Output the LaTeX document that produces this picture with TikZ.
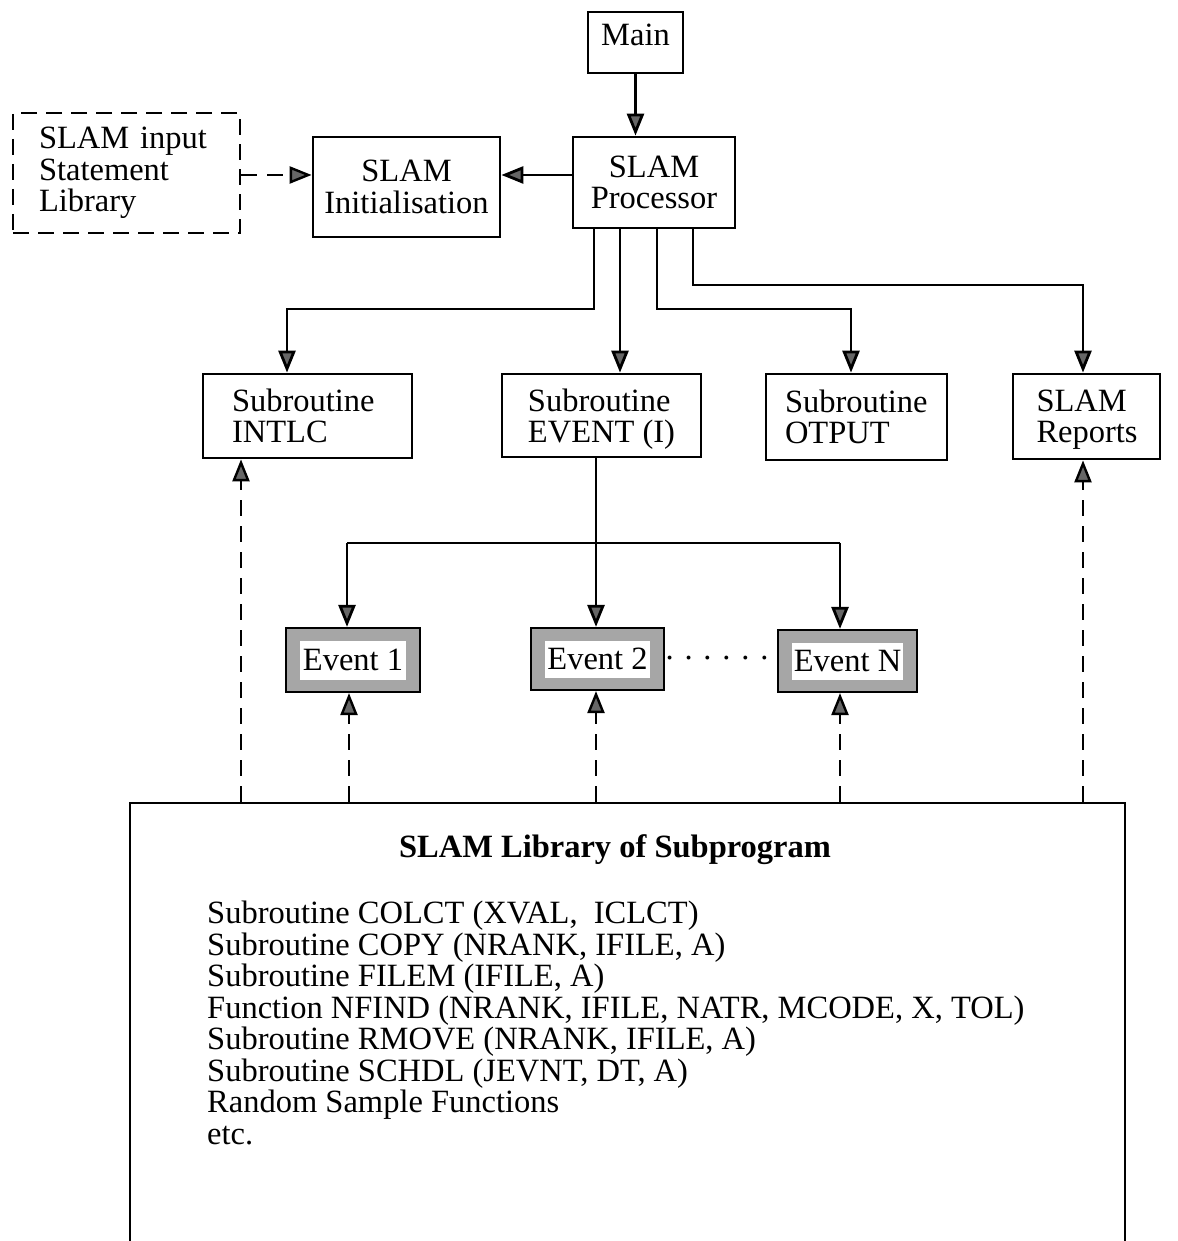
\documentclass[tikz,border=0pt]{standalone}
\usepackage{fontspec}
\setmainfont{Liberation Serif}
\usetikzlibrary{arrows.meta,calc}

\tikzset{
  every node/.style={font=\fontsize{32.5}{31.5}\selectfont},
  box/.style={draw, line width=2.8pt, inner sep=0pt},
  dbox/.style={draw, line width=2.6pt, inner sep=0pt, dash pattern=on 16pt off 9pt},
  evbox/.style={draw, line width=2.2pt, fill=black!35, inner sep=0pt,
    path picture={\fill[white]
      ($(path picture bounding box.south west)+(14pt,12pt)$) rectangle
      ($(path picture bounding box.north east)+(-14pt,-13pt)$);}},
  wire/.style={line width=2.8pt},
  arr/.style={wire, -{Triangle[length=22pt,width=17pt,fill=black!60]}},
  darr/.style={line width=2.4pt, dash pattern=on 16pt off 10pt,
    -{Triangle[length=22pt,width=17pt,fill=black!60]}},
}

\begin{document}
\begin{tikzpicture}[x=1pt,y=1pt]
\useasboundingbox[fill=white] (0,0) rectangle (1177,1241);

% top level
\node[box, text height=34, text depth=27] (main) at (635.5,1198.5) {\makebox[95pt]{Main}};
\node[box, minimum width=162, minimum height=91, align=center] (proc) at (654,1058.5) {SLAM\\Processor};
\node[box, minimum width=187, minimum height=100, align=center] (init) at (406.5,1054) {SLAM\\Initialisation};
\node[dbox, minimum width=227, minimum height=120, text width=175, align=left] (input) at (126.5,1068) {SLAM input\\Statement\\Library};

% subroutines
\node[box, minimum width=209, minimum height=84, text width=151, align=left] (intlc) at (307.5,825) {Subroutine\\INTLC};
\node[box, minimum width=199, minimum height=83, align=left] (event) at (601.5,825.5) {Subroutine\\\smash{EVENT (I)}};
\node[box, minimum width=181, minimum height=86, text width=143, align=left] (otput) at (856.5,824) {Subroutine\\OTPUT};
\node[box, minimum width=147, minimum height=85, text width=100, align=left] (reports) at (1086.5,824.5) {SLAM\\\smash{Reports}};

% events
\node[evbox, minimum width=134, minimum height=64] (ev1) at (353,581) {Event 1};
\node[evbox, minimum width=133, minimum height=62] (ev2) at (597.5,582) {Event 2};
\node[evbox, minimum width=139, minimum height=62] (evn) at (847.5,580) {Event N};
\node (dots) at (717,583) {. . . . . .};

% subprogram library
\node[box, minimum width=995, minimum height=470] (lib) at (627.5,203) {};
\node[font=\fontsize{32.5}{31.5}\selectfont\bfseries] (libtitle) at (615,391) {SLAM Library of Subprogram};
\node[anchor=north west, inner sep=0pt, align=left] (liblist) at (207,340) {%
Subroutine COLCT (XVAL,\ \ ICLCT)\\
Subroutine COPY (NRANK, IFILE, A)\\
Subroutine FILEM (IFILE, A)\\
Function NFIND (NRANK, IFILE, NATR, MCODE, X, TOL)\\
Subroutine RMOVE (NRANK, IFILE, A)\\
Subroutine SCHDL (JEVNT, DT, A)\\
Random Sample Functions\\
etc.};

% routing points
\coordinate (yA) at (0,1066);
\coordinate (k1) at (594,932);
\coordinate (t1) at (287,932);
\coordinate (t2) at (620,0);
\coordinate (k3) at (657,932);
\coordinate (t3) at (851,932);
\coordinate (k4) at (693,956);
\coordinate (t4) at (1083,956);
\coordinate (j) at (596,698);
\coordinate (x1) at (347,698);
\coordinate (xn) at (840,698);
\coordinate (u1) at (241,0);
\coordinate (u2) at (349,0);
\coordinate (u3) at (596,0);
\coordinate (u4) at (840,0);
\coordinate (u5) at (1083,0);

% control flow
\draw[arr] (main.south) -- (main.south |- proc.north);
\draw[arr] (proc.west |- yA) -- (init.east |- yA);
\draw[darr] (input.east |- yA) -- (init.west |- yA);

\draw[arr] (proc.south -| k1) -- (k1) -- (t1) -- (intlc.north -| t1);
\draw[arr] (proc.south -| t2) -- (event.north -| t2);
\draw[arr] (proc.south -| k3) -- (k3) -- (t3) -- (otput.north -| t3);
\draw[arr] (proc.south -| k4) -- (k4) -- (t4) -- (reports.north -| t4);

\draw[wire] (event.south -| j) -- (j);
\draw[wire] (x1) -- (xn);
\draw[arr] (x1) -- (ev1.north -| x1);
\draw[arr] (j) -- (ev2.north -| j);
\draw[arr] (xn) -- (evn.north -| xn);

% library calls
\draw[darr] (lib.north -| u1) -- (intlc.south -| u1);
\draw[darr] (lib.north -| u2) -- (ev1.south -| u2);
\draw[darr] (lib.north -| u3) -- (ev2.south -| u3);
\draw[darr] (lib.north -| u4) -- (evn.south -| u4);
\draw[darr] (lib.north -| u5) -- (reports.south -| u5);
\end{tikzpicture}
\end{document}
